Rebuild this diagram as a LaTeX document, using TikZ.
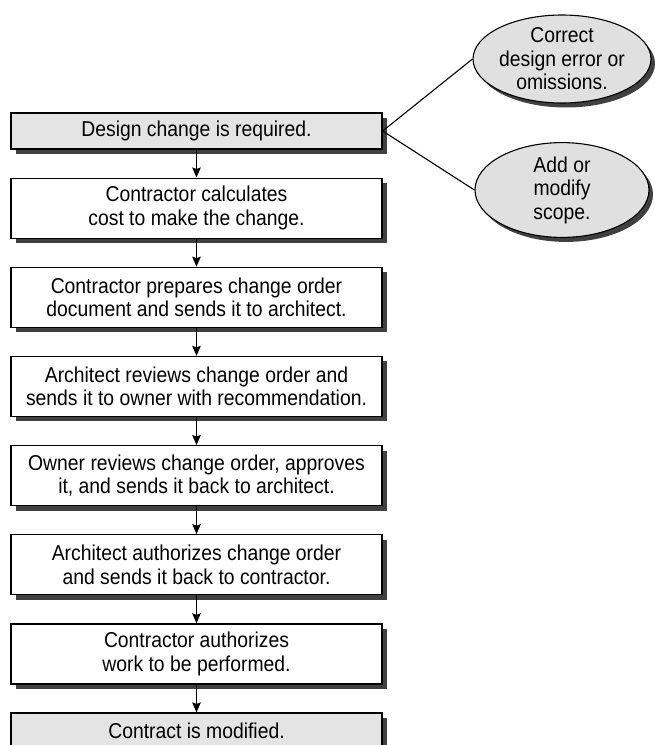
\documentclass[tikz,border=0pt]{standalone}
\usepackage{fontspec}
\setmainfont{Liberation Sans}[FakeStretch=0.9]
\usetikzlibrary{shapes.geometric,shadows,arrows.meta,positioning}
\definecolor{boxgrey}{HTML}{E4E4E4}
\definecolor{ellgrey}{HTML}{E0E0E0}
\definecolor{shade}{HTML}{404040}
\begin{document}
\begin{tikzpicture}[x=1pt,y=-1pt,
  font=\fontsize{21.5}{23.5}\selectfont,
  node distance=27.86pt,
  stepbox/.style={draw=black, line width=1.3pt, fill=white,
    minimum width=371pt, minimum height=60pt, inner sep=0pt, align=center,
    drop shadow={shadow xshift=4.5pt, shadow yshift=-5pt, fill=shade, opacity=1}},
  endbox/.style={stepbox, fill=boxgrey, minimum height=36pt},
  cause/.style={ellipse, draw=black, line width=1.1pt, fill=ellgrey,
    minimum width=174pt, minimum height=86pt, inner sep=0pt, align=center,
    drop shadow={shadow xshift=4pt, shadow yshift=-4.5pt, fill=shade, opacity=1}},
  flow/.style={line width=1.2pt, -{Stealth[length=10pt,width=8.5pt,inset=1.5pt]}},
  link/.style={line width=1.1pt}
]
\useasboundingbox (0,0) rectangle (654,745);

% main sequence of steps
\node[endbox]  (b1) at (196.5,131) {Design change is required.};
\node[stepbox, below=of b1] (b2) {Contractor calculates\\cost to make the change.};
\node[stepbox, below=of b2] (b3) {Contractor prepares change order\\document and sends it to architect.};
\node[stepbox, below=of b3] (b4) {Architect reviews change order and\\sends it to owner with recommendation.};
\node[stepbox, below=of b4] (b5) {Owner reviews change order, approves\\it, and sends it back to architect.};
\node[stepbox, below=of b5] (b6) {Architect authorizes change order\\and sends it back to contractor.};
\node[stepbox, below=of b6] (b7) {Contractor authorizes\\work to be performed.};
\node[endbox,  below=of b7] (b8) {Contract is modified.};

% reasons for the change
\node[cause] (e1) at (562,59)  {Correct\\design error or\\omissions.};
\node[cause] (e2) at (562,190) {Add or\\modify\\scope.};

\draw[link] (b1.east) -- (e1.west);
\draw[link] (b1.east) -- (e2.west);

\foreach \a/\b in {b1/b2,b2/b3,b3/b4,b4/b5,b5/b6,b6/b7,b7/b8}
  \draw[flow] (\a.south) -- (\b.north);
\end{tikzpicture}
\end{document}
